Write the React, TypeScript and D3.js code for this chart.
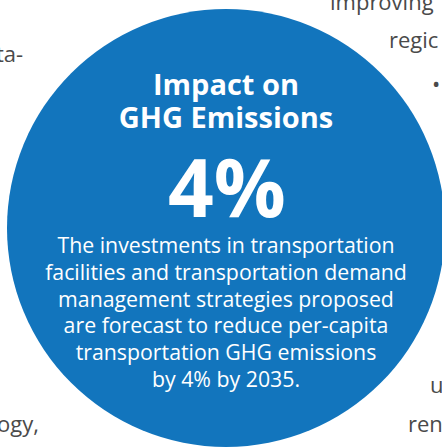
import React from "react";
import * as d3 from "d3";

const titleLines = ["Impact on", "GHG Emissions"];
const headlineValue = 4;
const headlineUnit = "%";
const bodyLines = [
  "The investments in transportation",
  "facilities and transportation demand",
  "management strategies proposed",
  "are forecast to reduce per-capita",
  "transportation GHG emissions",
  "by 4% by 2035.",
];
const bgTexts = ["improving", "regic", "•", "ta-", "ogy,", "u", "ren"];
const bgX = [330, 389, 432, -4, -3, 430, 408];
const bgY = [10, 48, 92, 62, 432, 393, 432];

const W = 442;
const H = 448;

export default function App() {
  const cx = 226;
  const cy = 228;
  const r = 219;
  const titleY = d3.scaleLinear().domain([0, 1]).range([95, 128]);
  const bodyY = d3.scaleLinear().domain([0, 5]).range([253, 387]);
  const font = "'Open Sans', 'Noto Sans', sans-serif";
  return (
    <svg
      width={W}
      height={H}
      style={{ position: "fixed", left: 0, top: 0, background: "#fff" }}
      fontFamily={font}
    >
      {bgTexts.map((t, i) => (
        <text key={i} x={bgX[i]} y={bgY[i]} fontSize={22} fill="#4a4a4a">
          {t}
        </text>
      ))}
      <circle cx={cx} cy={cy} r={r} fill="#1275bd" />
      {titleLines.map((t, i) => (
        <text
          key={i}
          x={cx}
          y={titleY(i)}
          textAnchor="middle"
          fontSize={29}
          fontWeight={700}
          fill="#fff"
        >
          {t}
        </text>
      ))}
      <text
        x={cx + 1}
        y={217}
        textAnchor="middle"
        fontSize={80}
        fontWeight={700}
        fill="#fff"
      >
        {`${headlineValue}${headlineUnit}`}
      </text>
      {bodyLines.map((t, i) => (
        <text
          key={i}
          x={cx}
          y={bodyY(i)}
          textAnchor="middle"
          fontSize={21.3}
          fill="#fff"
        >
          {t}
        </text>
      ))}
    </svg>
  );
}
